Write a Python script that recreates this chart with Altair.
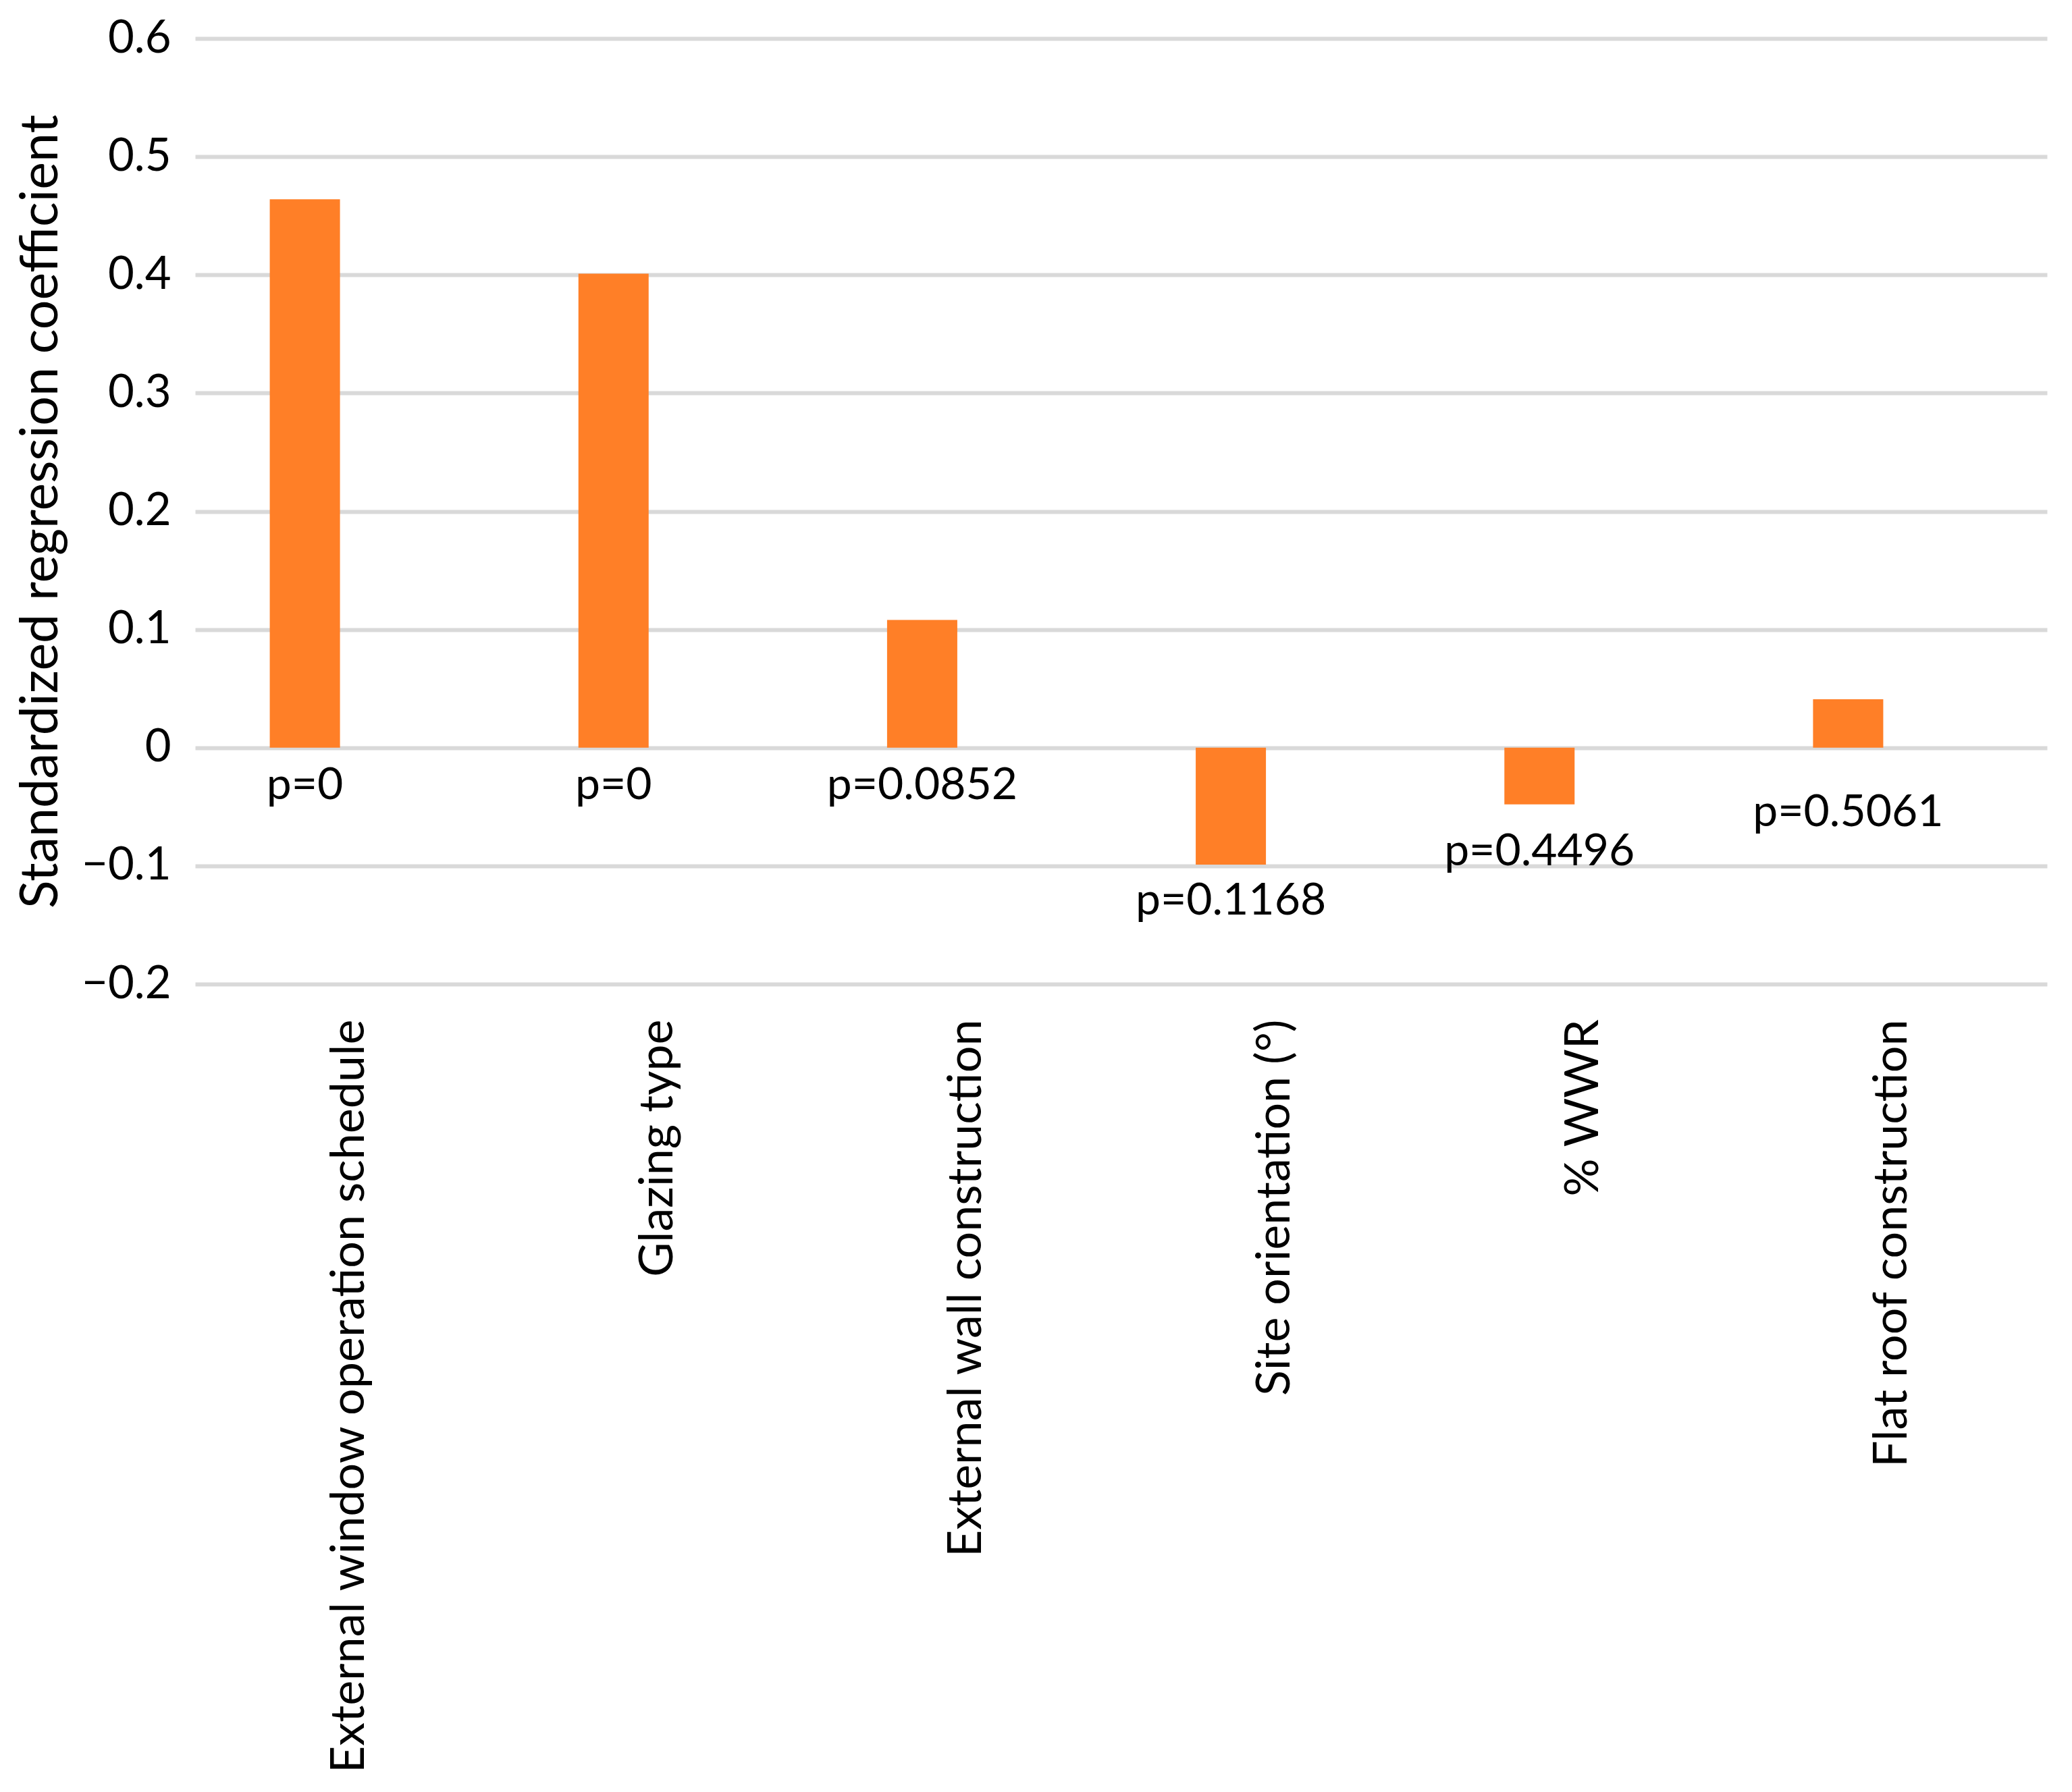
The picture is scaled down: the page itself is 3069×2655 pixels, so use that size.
import altair as alt
import pandas as pd

categories = [
    "External window operation schedule",
    "Glazing type",
    "External wall construction",
    "Site orientation (°)",
    "% WWR",
    "Flat roof construction",
]
coefficients = [0.464, 0.401, 0.108, -0.099, -0.048, 0.041]
p_labels = ["p=0", "p=0", "p=0.0852", "p=0.1168", "p=0.4496", "p=0.5061"]
p_label_y = [-0.032, -0.032, -0.032, -0.130, -0.088, -0.055]
y_ticks = [-0.2, -0.1, 0, 0.1, 0.2, 0.3, 0.4, 0.5, 0.6]

df = pd.DataFrame({
    "parameter": categories,
    "coef": coefficients,
    "plabel": p_labels,
    "label_y": p_label_y,
})

FONT = "Lato"

x_axis = alt.Axis(
    title=None,
    labelAngle=-90,
    labelAlign="right",
    labelBaseline="middle",
    labelFontSize=70,
    labelFont=FONT,
    labelColor="black",
    labelPadding=52,
    labelLimit=3000,
    ticks=False,
    domain=False,
    grid=False,
)

y_axis = alt.Axis(
    title="Standardized regression coefficient",
    titleFont=FONT,
    titleFontSize=77,
    titleFontWeight="normal",
    titleColor="black",
    titlePadding=20,
    values=y_ticks,
    format=".1~f",
    labelFont=FONT,
    labelFontSize=67,
    labelColor="black",
    labelPadding=36,
    ticks=False,
    domain=False,
    grid=True,
    gridColor="#D9D9D9",
    gridWidth=6,
)

x_scale = alt.Scale(paddingInner=0, paddingOuter=0)
y_scale = alt.Scale(domain=[-0.2, 0.6], nice=False)

bars = alt.Chart(df).mark_bar(size=104, xOffset=-66, color="#FF7F27").encode(
    x=alt.X("parameter:N", sort=categories, scale=x_scale, axis=x_axis),
    y=alt.Y("coef:Q", scale=y_scale, axis=y_axis),
)

texts = alt.Chart(df).mark_text(
    font=FONT, fontSize=66, xOffset=-66, align="center", baseline="middle", color="black"
).encode(
    x=alt.X("parameter:N", sort=categories, scale=x_scale, axis=x_axis),
    y=alt.Y("label_y:Q", scale=y_scale, axis=y_axis),
    text="plabel:N",
)

chart = (
    alt.layer(bars, texts)
    .properties(
        width=2743,
        height=1401,
        background="white",
        padding={"left": 14, "top": 15, "right": 5, "bottom": 5},
    )
    .configure_view(strokeWidth=0, stroke="transparent")
)

chart.save("out.html", embed_options={"renderer": "svg", "actions": False})
